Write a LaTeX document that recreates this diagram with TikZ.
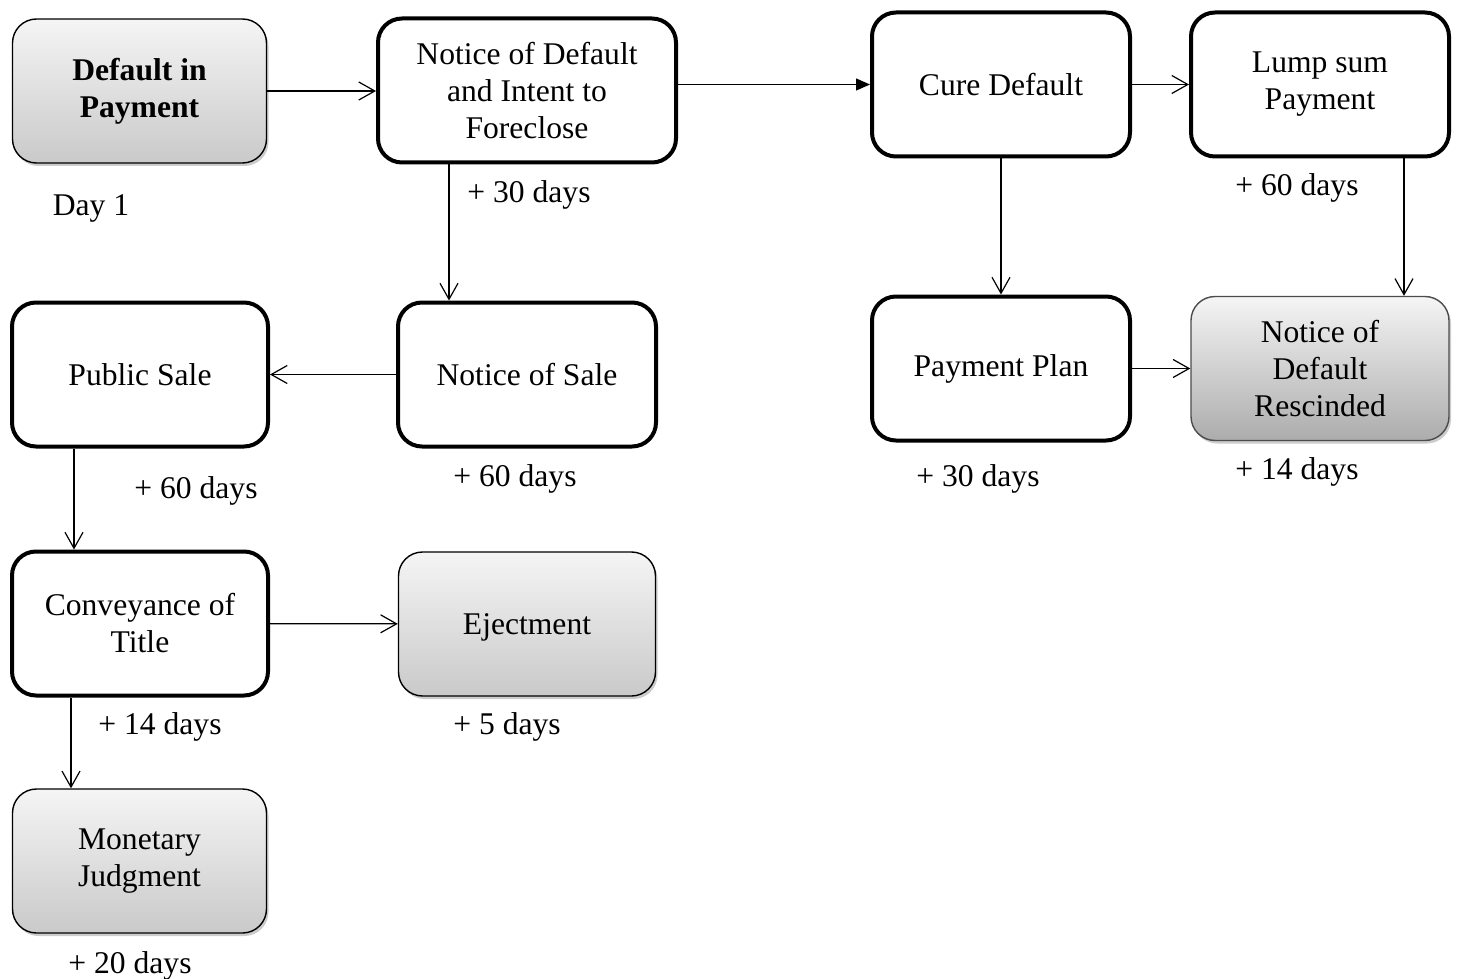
\documentclass[tikz,border=0pt]{standalone}
\usepackage{fontspec}
\setmainfont{Liberation Serif}
\usetikzlibrary{arrows.meta,shadows}

\begin{document}
\begin{tikzpicture}[x=0.5pt,y=0.5pt]
                \tikzstyle{every node}+=[inner sep=0pt, font=\fontsize{15.8}{18.5}\selectfont, align=center]
                \tikzstyle{stepbox}=[draw=black, line width=2pt, rounded corners=12pt, fill=white, minimum width=127pt, minimum height=72pt]
                \tikzstyle{endbox}=[draw=black, line width=0.7pt, rounded corners=12pt, top color=gray!8, bottom color=gray!42, minimum width=127pt, minimum height=72pt, drop shadow={shadow xshift=1pt, shadow yshift=-1.5pt, opacity=0.4}]
                \tikzstyle{open}=[-{Straight Barb[length=8pt,width=9pt]}, line width=0.6pt]
                \tikzstyle{solid}=[-{Triangle[length=7pt,width=6pt]}, line width=0.6pt]
                \useasboundingbox (0,0) rectangle (1458,-979);
                % boxes
                \node [endbox, font=\fontsize{15.8}{18.5}\selectfont\bfseries] (pay) at (139.5,-91) {Default in\\Payment};
                \node [stepbox, minimum width=149pt] (nod) at (527,-90.5) {Notice of Default\\and Intent to\\Foreclose};
                \node [stepbox, minimum width=129pt] (cure) at (1001,-84.5) {Cure Default};
                \node [stepbox, minimum width=129pt] (lump) at (1320,-84.5) {Lump sum\\Payment};
                \node [stepbox, minimum width=129pt] (nos) at (527,-374.5) {Notice of Sale};
                \node [stepbox, minimum width=128pt] (pub) at (140,-374.5) {Public Sale};
                \node [stepbox, minimum width=129pt] (plan) at (1001,-368.5) {Payment Plan};
                \node [endbox, minimum width=129pt, draw=gray!60!black, bottom color=gray!65] (resc) at (1320,-368.5) {Notice of\\Default\\Rescinded};
                \node [stepbox, minimum width=128pt] (conv) at (140,-623.5) {Conveyance of\\Title};
                \node [endbox, minimum width=128.5pt, text depth=0pt] (eject) at (527,-624) {Ejectment};
                \node [endbox] (mon) at (139.5,-861) {Monetary\\Judgment};
                % times
                \node (t1) at (91,-208) {Day 1};
                \node (t2) at (529,-195) {+ 30 days};
                \node (t3) at (1297,-188) {+ 60 days};
                \node (t4) at (196,-491) {+ 60 days};
                \node (t5) at (515,-479) {+ 60 days};
                \node (t6) at (978,-479) {+ 30 days};
                \node (t7) at (1297,-472) {+ 14 days};
                \node (t8) at (160,-727) {+ 14 days};
                \node (t9) at (507,-727) {+ 5 days};
                \node (t10) at (130,-966) {+ 20 days};
                % arrows
                \draw [open] (pay) -- (nod.west |- pay);
                \draw [solid] (nod.east |- cure) -- (cure);
                \draw [open] (cure) -- (lump);
                \draw [open] ([xshift=-39pt]nod.south) -- ([xshift=-39pt]nod.south |- nos.north);
                \draw [open] (cure) -- (plan);
                \draw [open] ([xshift=42pt]lump.south) -- ([xshift=42pt]lump.south |- resc.north);
                \draw [open] (nos) -- (pub);
                \draw [open] (plan) -- (resc);
                \draw [open] ([xshift=-33pt]pub.south) -- ([xshift=-33pt]pub.south |- conv.north);
                \draw [open] (conv) -- (eject);
                \draw [open] ([xshift=-34.5pt]conv.south) -- ([xshift=-34.5pt]conv.south |- mon.north);
              \end{tikzpicture}
\end{document}
